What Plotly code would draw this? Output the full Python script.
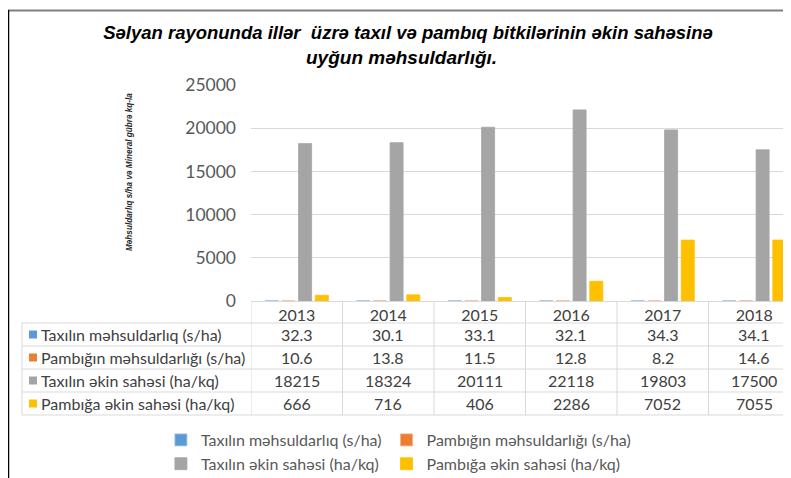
import plotly.graph_objects as go

years = ["2013", "2014", "2015", "2016", "2017", "2018"]
taxil_mehsuldarliq = [32.3, 30.1, 33.1, 32.1, 34.3, 34.1]
pambiq_mehsuldarliq = [10.6, 13.8, 11.5, 12.8, 8.2, 14.6]
taxil_ekin_sahesi = [18215, 18324, 20111, 22118, 19803, 17500]
pambiq_ekin_sahesi = [666, 716, 406, 2286, 7052, 7055]
series_names = [
    "Taxılın məhsuldarlıq (s/ha)",
    "Pambığın məhsuldarlığı (s/ha)",
    "Taxılın əkin sahəsi (ha/kq)",
    "Pambığa əkin sahəsi (ha/kq)",
]
series_values = [taxil_mehsuldarliq, pambiq_mehsuldarliq, taxil_ekin_sahesi, pambiq_ekin_sahesi]
colors = ["#5b9bd5", "#ed7d31", "#a5a5a5", "#ffc000"]
line_colors = ["#9dc3e6", "#f4b183", "#a5a5a5", "#ffc000"]
legend_columns = ["c1", "c2", "c1", "c2"]
y_ticks = [0, 5000, 10000, 15000, 20000, 25000]

title_line1 = "Səlyan rayonunda illər  üzrə taxıl və pambıq bitkilərinin əkin sahəsinə"
title_line2 = "uyğun məhsuldarlığı."
y_title = "Məhsuldarlıq s/ha və Mineral gübrə kq-la"

# page offset (body margin of the html page)
OFF = 8
W, H = 791 - OFF, 478 - OFF
L, R = 251 - OFF, 0
T = 85 - OFF
B = H - (301 - OFF)
PW, PH = W - L - R, H - T - B
COL_W = 91.5

def xp(px):
    return (px - OFF - L) / PW

def yp(py):
    return (H - B - (py - OFF)) / PH

FONT = "Lato"
FS = 16
fig = go.Figure()
for name, vals, c, lc, grp in zip(series_names, series_values, colors, line_colors, legend_columns):
    fig.add_trace(go.Bar(x=years, y=vals, name=name, legendgroup=grp,
                         marker=dict(color=c, line=dict(color=lc, width=0.8))))

shapes = []
annotations = []
grid_c = "#d9d9d9"

# table rows
row_tops = [323, 346, 369, 392]
row_h = 23
for py in row_tops + [row_tops[-1] + row_h]:
    shapes.append(dict(type="line", xref="paper", yref="paper",
                       x0=xp(22), x1=1, y0=yp(py), y1=yp(py),
                       line=dict(color=grid_c, width=1)))
shapes.append(dict(type="line", xref="paper", yref="paper",
                   x0=xp(22), x1=xp(22), y0=yp(row_tops[0]), y1=yp(row_tops[-1] + row_h),
                   line=dict(color=grid_c, width=1)))
for i in range(len(years)):
    shapes.append(dict(type="line", xref="x", yref="paper",
                       x0=i - 0.5, x1=i - 0.5, y0=0, y1=yp(row_tops[-1] + row_h),
                       line=dict(color=grid_c, width=1)))

for r, (name, vals, c) in enumerate(zip(series_names, series_values, colors)):
    yc = row_tops[r] + row_h / 2
    shapes.append(dict(type="rect", xref="paper", yref="paper",
                       x0=xp(29), x1=xp(37), y0=yp(yc - 4), y1=yp(yc + 4),
                       fillcolor=c, line=dict(width=0)))
    annotations.append(dict(xref="paper", yref="paper", x=xp(39), y=yp(yc),
                            xanchor="left", yanchor="middle", showarrow=False,
                            text=name, font=dict(family=FONT, size=FS, color="#404040")))
    for i, v in enumerate(vals):
        annotations.append(dict(xref="x", yref="paper", x=i, y=yp(yc),
                                xanchor="center", yanchor="middle", showarrow=False,
                                text=str(v), font=dict(family=FONT, size=FS, color="#404040")))

# y-axis title
annotations.append(dict(xref="paper", yref="paper", x=xp(129), y=yp(172),
                        xanchor="center", yanchor="middle", showarrow=False, textangle=-90,
                        text="<b><i>" + y_title + "</i></b>",
                        font=dict(family="Liberation Sans", size=8.2, color="#262626")))
# second title line
annotations.append(dict(xref="paper", yref="paper", x=xp(401), y=yp(57),
                        xanchor="center", yanchor="middle", showarrow=False,
                        text="<b><i>" + title_line2 + "</i></b>",
                        font=dict(family="Liberation Sans", size=19, color="#000000")))

# frame lines
shapes.append(dict(type="line", xref="paper", yref="paper",
                   x0=xp(8), x1=1, y0=yp(10.5), y1=yp(10.5),
                   line=dict(color="#808080", width=2)))
shapes.append(dict(type="line", xref="paper", yref="paper",
                   x0=xp(8.5), x1=xp(8.5), y0=yp(10), y1=yp(478),
                   line=dict(color="#000000", width=1.5)))

fig.update_layout(
    width=W, height=H, autosize=False,
    margin=dict(l=L, r=R, t=T, b=B, pad=0, autoexpand=False),
    paper_bgcolor="white", plot_bgcolor="white",
    barmode="group", bargap=0.27, bargroupgap=0.22,
    title=dict(text="<b><i>" + title_line1 + "</i></b>", x=(408 - OFF) / W, xanchor="center",
               xref="container", y=1 - (33 - OFF) / H, yanchor="middle",
               font=dict(family="Liberation Sans", size=18.5, color="#000000")),
    xaxis=dict(type="category", range=[-0.5, -0.5 + PW / COL_W], showgrid=False,
               showline=True, linecolor=grid_c, linewidth=1, ticks="",
               tickfont=dict(family=FONT, size=FS, color="#404040"), fixedrange=True),
    yaxis=dict(range=[0, 25000], tickvals=y_ticks, tickformat="d", showgrid=True,
               gridcolor=grid_c, zeroline=False, showline=False, ticks="",
               ticklabelstandoff=14,
               tickfont=dict(family=FONT, size=17.5, color="#595959")),
    showlegend=True,
    legend=dict(orientation="h", x=0.273, xanchor="center", y=yp(423), yanchor="top",
                traceorder="grouped", tracegroupgap=0, groupclick="toggleitem",
                font=dict(family=FONT, size=FS, color="#595959"),
                bgcolor="rgba(0,0,0,0)"),
    shapes=shapes, annotations=annotations,
)

fig.write_html("out.html")
